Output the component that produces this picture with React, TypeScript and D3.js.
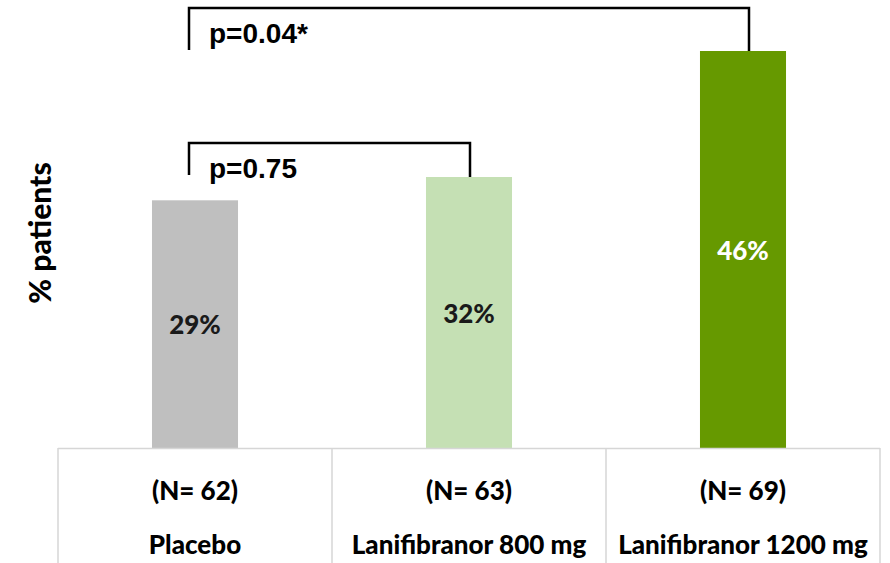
import React from "react";
import * as d3 from "d3";

const categories = ["Placebo", "Lanifibranor 800 mg", "Lanifibranor 1200 mg"];
const nLabels = ["(N= 62)", "(N= 63)", "(N= 69)"];
const values = [28.7, 31.4, 46];
const valueLabels = ["29%", "32%", "46%"];
const colors = ["#bfbfbf", "#c5e0b4", "#669900"];
const labelColors = ["#1a1a1a", "#1a1a1a", "#ffffff"];
const comparisons = [
  { from: 0, to: 1, label: "p=0.75", level: 0 },
  { from: 0, to: 2, label: "p=0.04*", level: 1 },
];

const W = 890;
const H = 563;

export default function App() {
  const x = d3.scaleBand<string>().domain(categories).range([58, 880]).paddingInner(0).paddingOuter(0);
  const y = d3.scaleLinear().domain([0, 46]).range([448, 51]);
  const bw = x.bandwidth() * 0.314;
  const cx = (c: string) => (x(c) as number) + x.bandwidth() / 2;
  const bracketY = [143, 8];
  const bracketLeftY = [175, 50];
  const font = "Lato, 'Open Sans', sans-serif";
  const arial = "'Liberation Sans', Arial, sans-serif";

  return (
    <svg width={W} height={H} style={{ position: "absolute", left: 0, top: 0, display: "block", background: "#fff" }}>
      {/* bars */}
      {categories.map((c, i) => (
        <rect key={c} x={cx(c) - bw / 2} y={y(values[i])} width={bw} height={y(0) - y(values[i])} fill={colors[i]} />
      ))}
      {/* value labels */}
      {categories.map((c, i) => (
        <text key={c + "v"} x={cx(c)} y={(y(values[i]) + y(0)) / 2} textAnchor="middle" dominantBaseline="central"
          fontFamily={font} fontWeight={900} fontSize={26} fill={labelColors[i]}>{valueLabels[i]}</text>
      ))}
      {/* table */}
      <g stroke="#d6d6d6" strokeWidth={1.5} fill="none">
        <line x1={58} x2={880} y1={y(0) + 0.5} y2={y(0) + 0.5} />
        {[...categories.map((c) => x(c) as number), 880].map((xx, i) => (
          <line key={i} x1={xx} x2={xx} y1={y(0)} y2={H} />
        ))}
      </g>
      {categories.map((c, i) => (
        <g key={c + "t"} fontFamily={font} fontWeight={900} fontSize={26} fill="#000" textAnchor="middle">
          <text x={cx(c)} y={490} dominantBaseline="central">{nLabels[i]}</text>
          <text x={cx(c)} y={544} dominantBaseline="central">{c}</text>
        </g>
      ))}
      {/* brackets */}
      {comparisons.map((cmp, k) => {
        const x1 = cx(categories[cmp.from]) - 6;
        const x2 = cmp.level === 0 ? cx(categories[cmp.to]) + 1 : cx(categories[cmp.to]) + 6;
        const yt = bracketY[cmp.level];
        const yl = bracketLeftY[cmp.level];
        const yr = y(values[cmp.to]);
        return (
          <g key={k}>
            <path d={`M${x1},${yl} V${yt} H${x2} V${yr}`} fill="none" stroke="#000" strokeWidth={2.5} />
            <text x={x1 + 20} y={yt + 35} fontFamily={arial} fontWeight="bold" fontSize={28} fill="#000">{cmp.label}</text>
          </g>
        );
      })}
      {/* y axis title */}
      <text transform="translate(39,233) rotate(-90)" textAnchor="middle" dominantBaseline="central"
        fontFamily={font} fontWeight={900} fontSize={30} fill="#000">% patients</text>
    </svg>
  );
}
